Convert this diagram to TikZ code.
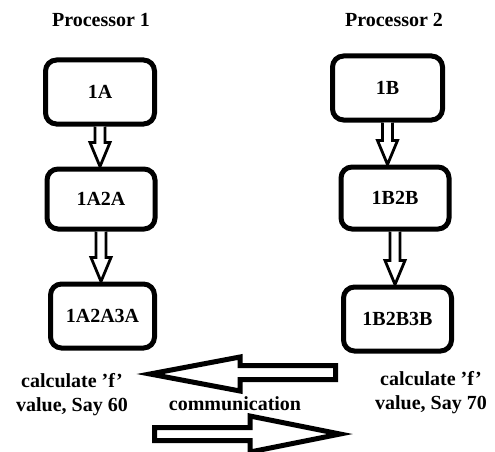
\documentclass[tikz,border=0pt]{standalone}
\usepackage{fontspec}
\setmainfont{Liberation Serif}
\usepackage{tikz}
\usetikzlibrary{positioning,calc}

\begin{document}
\begin{tikzpicture}[x=1pt,y=-1pt,
  blk/.style={draw,line width=5pt,rounded corners=11pt,fill=white,inner sep=0pt,
    font=\fontsize{20}{24}\selectfont\bfseries},
  lbl/.style={align=center,inner sep=0pt,font=\fontsize{20}{24}\selectfont\bfseries},
  hol/.style={draw,line width=2.8pt,fill=white,line join=miter},
  big/.style={draw,line width=5pt,fill=white,line join=miter}]
\useasboundingbox (0,0) rectangle (495,452);
% processor headings
\node[lbl] (h1) at (101,20) {Processor 1};
\node[lbl] (h2) at (394,20) {Processor 2};
% left chain
\node[blk,minimum width=109pt,minimum height=64pt] (p1a) at (100,92) {1A};
\node[blk,minimum width=108pt,minimum height=60pt] (p1b) at (101,199) {1A2A};
\node[blk,minimum width=104pt,minimum height=64pt] (p1c) at (102.5,316) {1A2A3A};
% right chain
\node[blk,minimum width=110pt,minimum height=64pt] (p2a) at (387.5,88) {1B};
\node[blk,minimum width=108pt,minimum height=62pt] (p2b) at (395,198) {1B2B};
\node[blk,minimum width=108pt,minimum height=64pt] (p2c) at (397.5,319) {1B2B3B};
% hollow down arrows
\foreach \a/\b in {p1a/p1b,p1b/p1c,p2a/p2b,p2b/p2c}{
  \coordinate (t) at (\a.south |- \b.north);
  \draw[hol] ($(\a.south)+(-5,0)$) -- ($(t)+(-5,-24)$) -- ($(t)+(-10,-24)$) -- (t)
    -- ($(t)+(10,-24)$) -- ($(t)+(5,-24)$) -- ($(\a.south)+(5,0)$);
}
% results
\node[lbl] (r1) at (72,395) {calculate 'f'\\value, Say 60};
\node[lbl] (r2) at (431,393) {calculate 'f'\\value, Say 70};
\node[lbl] (cm) at (235,404) {communication};
% communication arrows
\coordinate (lt) at (150,374);
\coordinate (rt) at (340,434);
\draw[big] (lt) -- (240,357) -- (240,365.5) -- (335.5,365.5) -- (335.5,379.5)
  -- (240,379.5) -- (240,391) -- cycle;
\draw[big] (rt) -- (250,416) -- (250,427.5) -- (154.5,427.5) -- (154.5,440.5)
  -- (250,440.5) -- (250,452) -- cycle;
\end{tikzpicture}
\end{document}
